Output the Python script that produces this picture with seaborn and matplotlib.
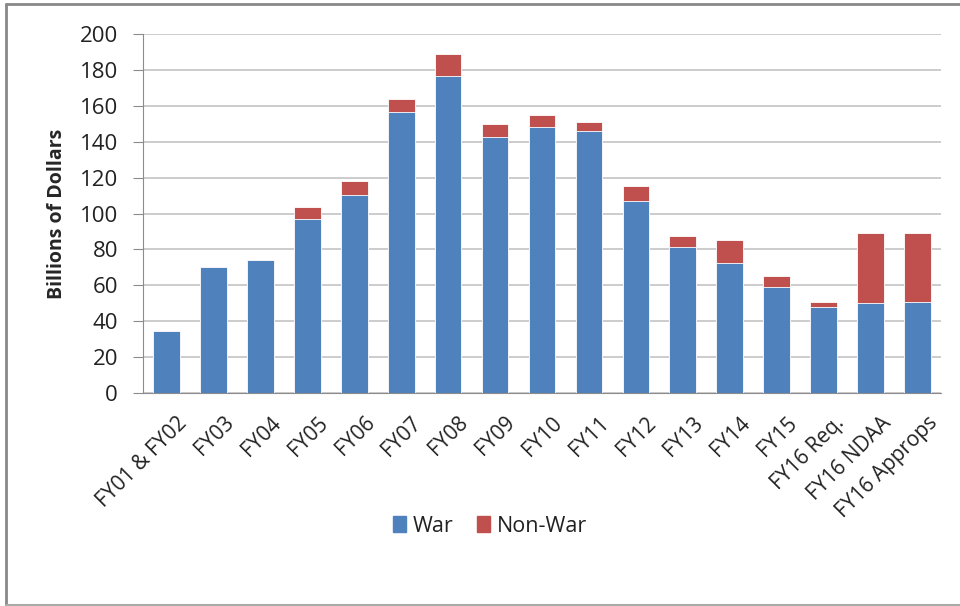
import numpy as np
import pandas as pd
import seaborn as sns
import matplotlib
matplotlib.use('Agg')
import matplotlib.pyplot as plt
import matplotlib.transforms as mtransforms
from matplotlib.patches import Patch
from matplotlib.lines import Line2D

# values (billions of dollars)
years = ['FY01 & FY02', 'FY03', 'FY04', 'FY05', 'FY06', 'FY07', 'FY08', 'FY09',
         'FY10', 'FY11', 'FY12', 'FY13', 'FY14', 'FY15', 'FY16 Req.', 'FY16 NDAA',
         'FY16 Approps']
war = [34.5, 70, 74, 96.7, 110.3, 156.7, 176.8, 142.4, 148.2, 145.9, 106.7, 81.1,
       72.2, 58.8, 48.0, 50.0, 50.8]
non_war = [0, 0, 0, 7.0, 7.8, 7.1, 12.1, 7.3, 6.5, 5.1, 8.6, 6.3, 13.0, 6.3, 2.8,
           38.9, 38.1]

war_color = '#4F81BD'
nonwar_color = '#C0504D'

df = pd.DataFrame({'year': years, 'War': war, 'Non-War': non_war})
df['total'] = df['War'] + df['Non-War']

sns.set_style('white')
plt.rcParams['font.family'] = ['Open Sans', 'DejaVu Sans']

fig = plt.figure(figsize=(9.6, 6.06), dpi=100)
ax = fig.add_axes([143/960, 1 - 393/606, (941 - 143)/960, (393 - 34)/606])

# stacked: draw total in red, war in blue on top of it
sns.barplot(data=df, x='year', y='total', color=nonwar_color, width=0.57,
            saturation=1, ax=ax, edgecolor='white', linewidth=0.6)
sns.barplot(data=df, x='year', y='War', color=war_color, width=0.57,
            saturation=1, ax=ax, edgecolor='white', linewidth=0.6)

ax.set_ylim(0, 200)
ax.set_xlim(-0.5, len(years) - 0.5)
ax.set_yticks(np.arange(0, 201, 20))
ax.yaxis.grid(True, color='#c8c8c8', linewidth=1.3)
ax.set_axisbelow(True)
for s in ['top', 'right']:
    ax.spines[s].set_visible(False)
ax.spines['left'].set_color('#8c8c8c')
ax.spines['bottom'].set_color('#8c8c8c')
ax.tick_params(axis='y', length=7, color='#8c8c8c', labelsize=16, pad=11, left=True,
               labelcolor='#222222')
ax.tick_params(axis='x', length=0, labelsize=15, pad=14, labelcolor='#222222')
plt.setp(ax.get_xticklabels(), rotation=45, ha='right', rotation_mode='anchor')
# nudge the rotated labels a little to the right, like the original
shift = mtransforms.ScaledTranslation(7/72, 0, fig.dpi_scale_trans)
for t in ax.get_xticklabels():
    t.set_transform(t.get_transform() + shift)
ax.set_xlabel('')
ax.set_ylabel('Billions of Dollars', fontsize=14, fontweight='bold', labelpad=9)

handles = [Patch(color=war_color), Patch(color=nonwar_color)]
fig.legend(handles, ['War', 'Non-War'], loc='center', bbox_to_anchor=(490/960, 1 - 526/606),
           ncol=2, frameon=False, fontsize=15.5, handlelength=0.6, handleheight=0.8,
           handletextpad=0.3, columnspacing=1.1, labelcolor='#222222')

# outer frame (left, top, bottom)
fig.add_artist(Line2D([6/960, 6/960], [0, 1 - 4/606], color='#888888', lw=2))
fig.add_artist(Line2D([6/960, 1], [1 - 4/606, 1 - 4/606], color='#888888', lw=2))
fig.add_artist(Line2D([6/960, 1], [1/606, 1/606], color='#aaaaaa', lw=1.5))

fig.savefig('out.png', dpi=100)
